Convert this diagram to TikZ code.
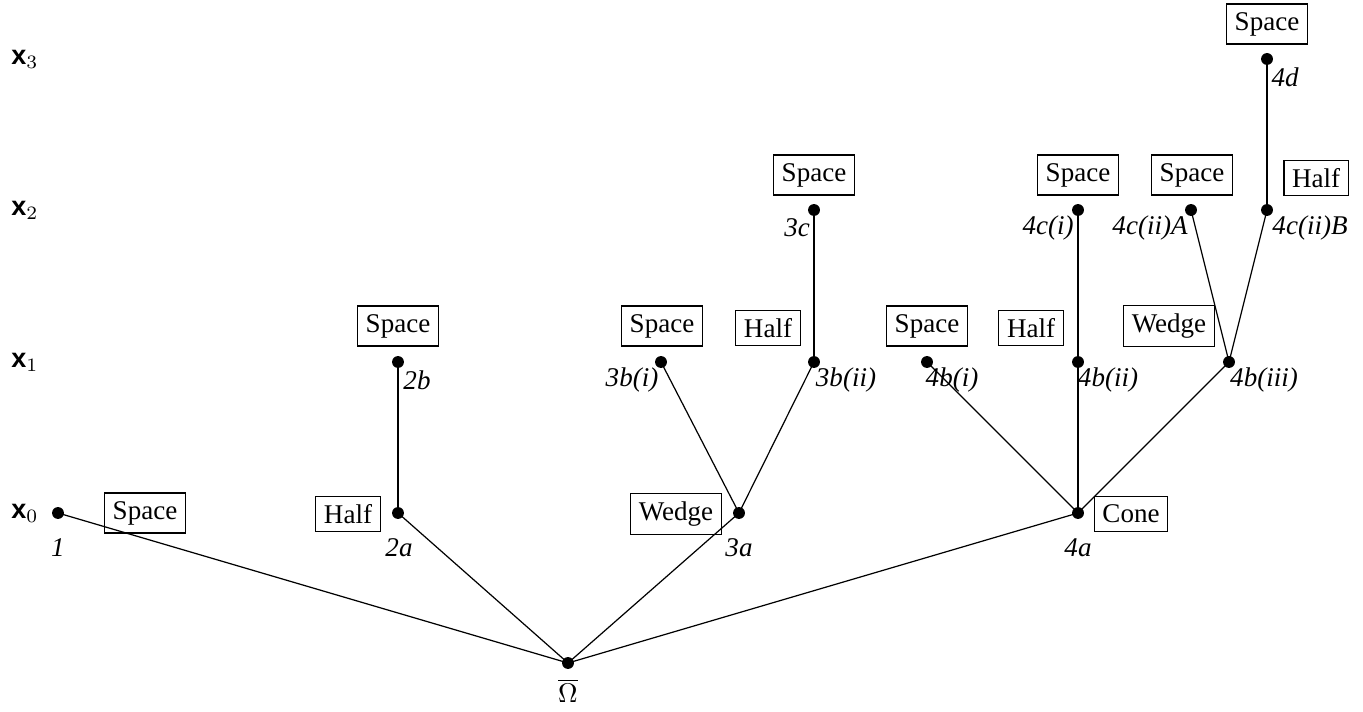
\documentclass[tikz,border=0pt]{standalone}
\usepackage{fontspec}
\setmainfont{Liberation Serif}
\newfontfamily\xsans{Liberation Sans}
\begin{document}
\begin{tikzpicture}[x=0.37pt,y=-0.37pt,
  vtx/.style={circle,fill=black,inner sep=0pt,minimum size=4.4pt},
  tag/.style={font=\itshape,inner sep=0pt},
  kind/.style={draw,line width=0.45pt,inner sep=3pt},
  level/.style={inner sep=0pt},
  edge/.style={line width=0.45pt}]
\useasboundingbox (0,0) rectangle (1363,712);

% level labels
\node[level] (l0) at (25,513) {{\xsans\bfseries x}$_0$};
\node[level] (l1) at (25,362) {{\xsans\bfseries x}$_1$};
\node[level] (l2) at (25,210) {{\xsans\bfseries x}$_2$};
\node[level] (l3) at (25,59)  {{\xsans\bfseries x}$_3$};

% vertices
\node[vtx] (om)   at (568,663) {};
\node[vtx] (v1)   at (58,513) {};
\node[vtx] (v2a)  at (398,513) {};
\node[vtx] (v2b)  at (398,362) {};
\node[vtx] (v3a)  at (739,513) {};
\node[vtx] (v3bi) at (661,362) {};
\node[vtx] (v3bii) at (814,362) {};
\node[vtx] (v3c)  at (814,210) {};
\node[vtx] (v4a)  at (1078,513) {};
\node[vtx] (v4bi) at (927,362) {};
\node[vtx] (v4bii) at (1078,362) {};
\node[vtx] (v4biii) at (1229,362) {};
\node[vtx] (v4ci) at (1078,210) {};
\node[vtx] (v4ciiA) at (1191,210) {};
\node[vtx] (v4ciiB) at (1267,210) {};
\node[vtx] (v4d)  at (1267,59) {};

% edges
\draw[edge] (om.center) -- (v1.center);
\draw[edge] (om.center) -- (v2a.center);
\draw[edge] (om.center) -- (v3a.center);
\draw[edge] (om.center) -- (v4a.center);
\draw[edge] (v2a.center) -- (v2b.center);
\draw[edge] (v3a.center) -- (v3bi.center);
\draw[edge] (v3a.center) -- (v3bii.center);
\draw[edge] (v3bii.center) -- (v3c.center);
\draw[edge] (v4a.center) -- (v4bi.center);
\draw[edge] (v4a.center) -- (v4bii.center);
\draw[edge] (v4a.center) -- (v4biii.center);
\draw[edge] (v4bii.center) -- (v4ci.center);
\draw[edge] (v4biii.center) -- (v4ciiA.center);
\draw[edge] (v4biii.center) -- (v4ciiB.center);
\draw[edge] (v4ciiB.center) -- (v4d.center);

% vertex names
\node (tom) at (568,691) {$\overline{\Omega}$};
\node[tag] (t1)   at (58,548) {1};
\node[tag] (t2a)  at (399,548) {2a};
\node[tag] (t2b)  at (417,380) {2b};
\node[tag] (t3a)  at (739,548) {3a};
\node[tag] (t3bi) at (632,380) {3b(i)};
\node[tag] (t3bii) at (846,380) {3b(ii)};
\node[tag] (t3c)  at (797,228) {3c};
\node[tag] (t4a)  at (1078,548) {4a};
\node[tag] (t4bi) at (952,380) {4b(i)};
\node[tag] (t4bii) at (1108,380) {4b(ii)};
\node[tag] (t4biii) at (1264,380) {4b(iii)};
\node[tag] (t4ci) at (1048,228) {4c(i)};
\node[tag] (t4ciiA) at (1150,228) {4c(ii)A};
\node[tag] (t4ciiB) at (1310,228) {4c(ii)B};
\node[tag] (t4d)  at (1285,77) {4d};

% region types
\node[kind] (k1)   at (145,513) {Space};
\node[kind] (k2a)  at (348,514) {Half};
\node[kind] (k2b)  at (398,326) {Space};
\node[kind] (k3a)  at (676,514) {Wedge};
\node[kind] (k3bi) at (662,326) {Space};
\node[kind] (k3bii) at (768,328) {Half};
\node[kind] (k3c)  at (814,175) {Space};
\node[kind] (k4a)  at (1131,514) {Cone};
\node[kind] (k4bi) at (927,326) {Space};
\node[kind] (k4bii) at (1031,328) {Half};
\node[kind] (k4biii) at (1169,326) {Wedge};
\node[kind] (k4ci) at (1078,175) {Space};
\node[kind] (k4ciiA) at (1192,175) {Space};
\node[kind] (k4ciiB) at (1316,178) {Half};
\node[kind] (k4d)  at (1267,24) {Space};
\end{tikzpicture}
\end{document}
